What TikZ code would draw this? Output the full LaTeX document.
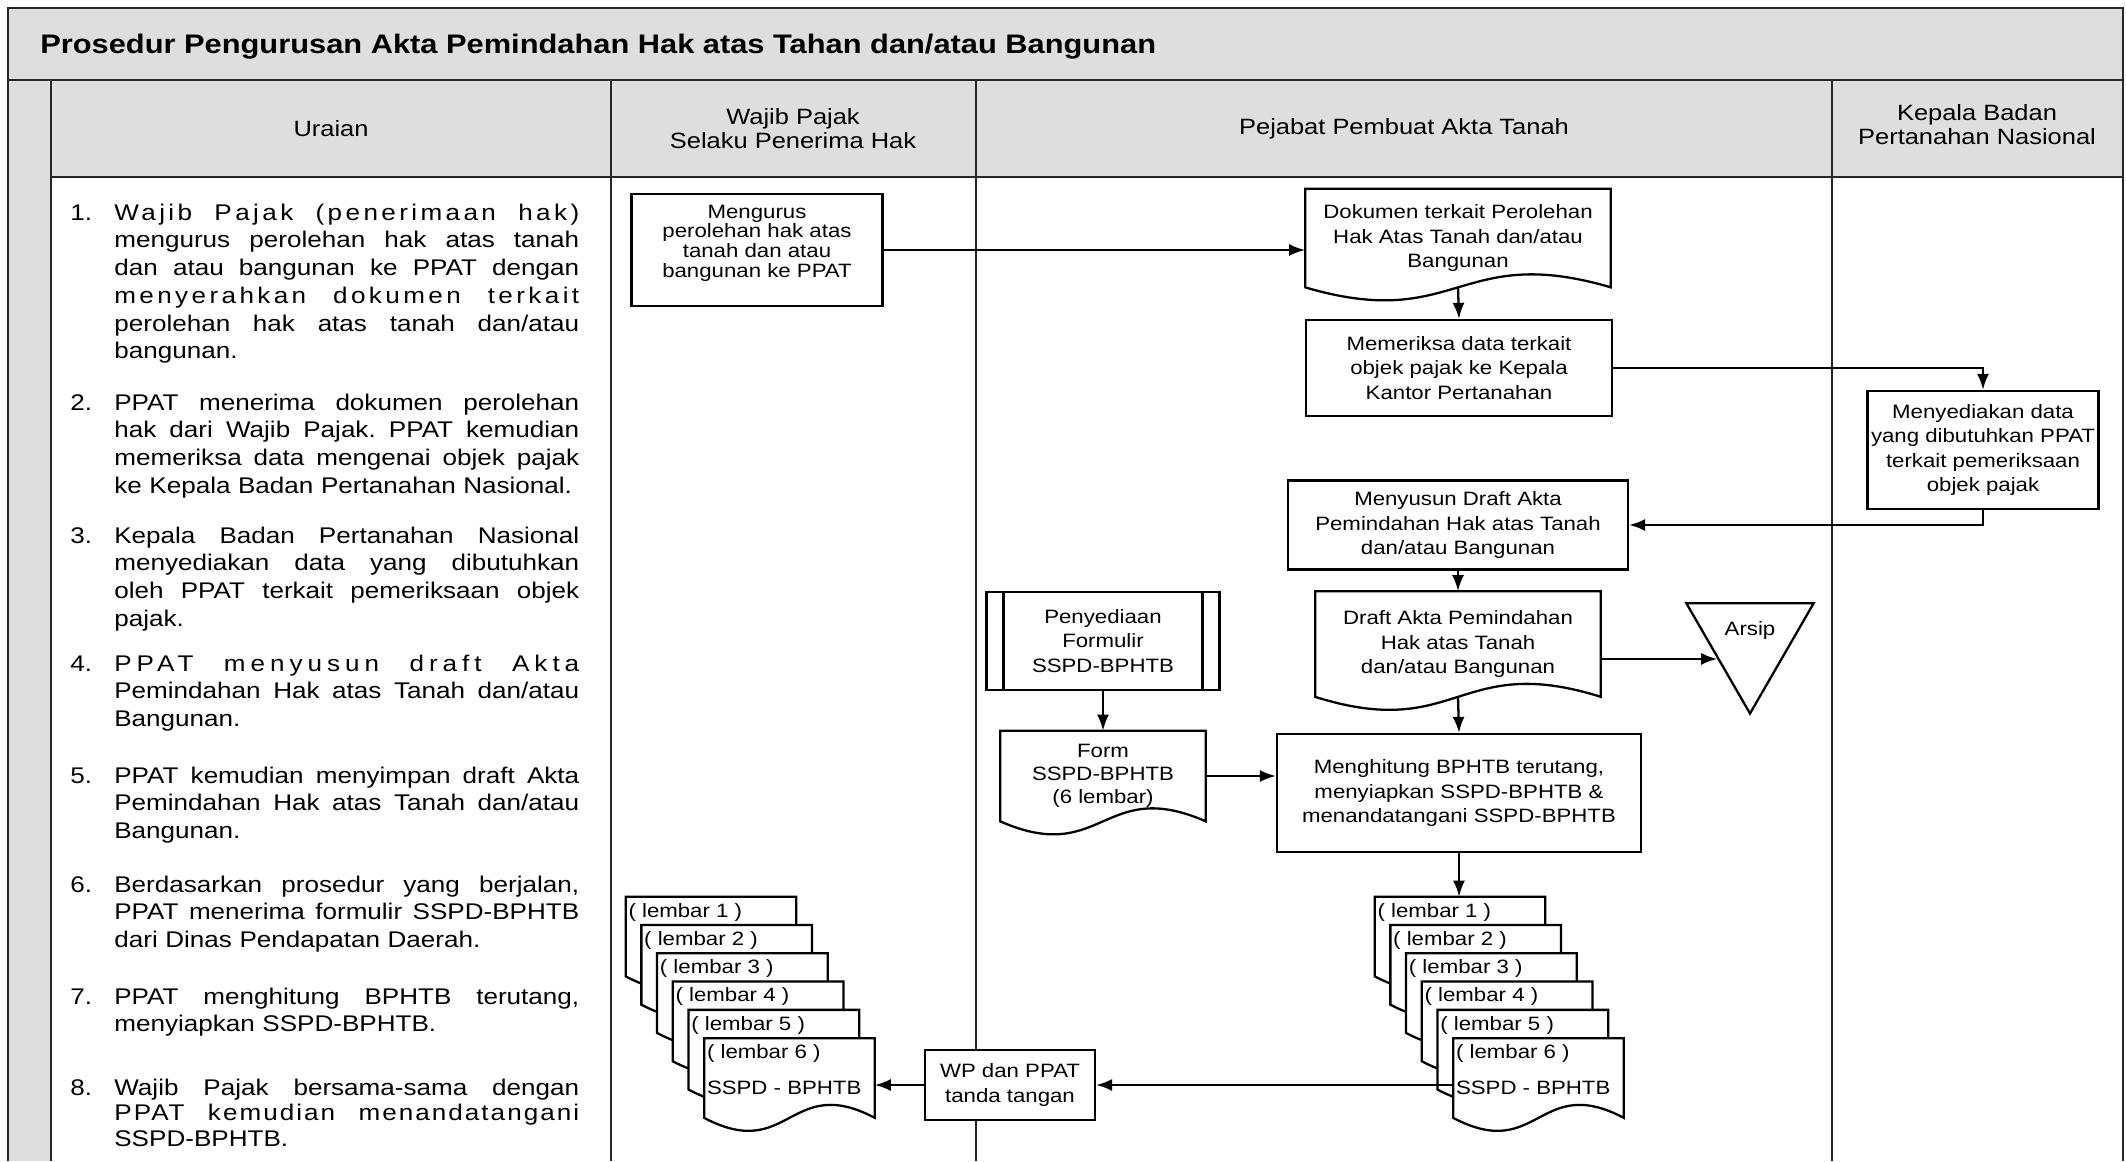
\documentclass[tikz,border=0pt]{standalone}
\usepackage{fontspec}
\setmainfont{Liberation Sans}[FakeStretch=1.15]
\usetikzlibrary{arrows.meta,calc,shapes.geometric}
\pgfdeclarelayer{docs}
\pgfsetlayers{docs,main}
\newcommand{\jline}[1]{\leavevmode\hbox to 9.3cm{\spaceskip=0.25em plus 1fil\xspaceskip=0.25em plus 1fil\relax #1}}
\newcommand{\sline}[2]{\leavevmode\hbox to 9.3cm{\addfontfeature{LetterSpace=#1}\spaceskip=0.25em plus 1fil\xspaceskip=0.25em plus 1fil\relax #2}}
\hbadness=10000

\begin{document}
\begin{tikzpicture}[x=0.02cm,y=-0.02cm,
band/.style={fill=black!13,draw=none},
laneline/.style={line width=1.6pt,draw=black!85},
lane/.style={font=\fontsize{12.6}{13.6}\selectfont,align=center},
uraian/.style={font=\fontsize{12.9}{15.8}\selectfont,inner sep=0pt,anchor=base west},
proc/.style={draw,fill=white,line width=1.3pt,align=center,inner sep=2pt,font=\fontsize{11}{13.8}\selectfont},
docu/.style={align=center,inner sep=2pt,font=\fontsize{11}{13.8}\selectfont},
sheet/.style={docu,minimum width=3.4cm,minimum height=1.58cm},
lembar/.style={font=\fontsize{11}{13.3}\selectfont,anchor=north west,inner xsep=0.05cm,inner ysep=0.12cm},
arr/.style={line width=1.3pt,-{Latex[length=0.32cm,width=0.24cm]}}]
\useasboundingbox (0,0) rectangle (2126,1161);

% swimlanes
\fill[band] (8,8) rectangle (2123,177);
\fill[band] (8,177) rectangle (51,1161);
\draw[laneline] (8,1161) -- (8,8) -- (2123,8) -- (2123,1161);
\draw[laneline] (8,80) -- (2123,80);
\draw[laneline] (51,177) -- (2123,177);
\draw[laneline] (51,80) -- (51,1161);
\draw[laneline] (611,80) -- (611,1161);
\draw[laneline] (976,80) -- (976,1161);
\draw[laneline] (1832,80) -- (1832,1161);

\node[anchor=base west,inner sep=0pt,font=\bfseries\fontsize{15.25}{18}\selectfont] (judul) at (40,53)
  {Prosedur Pengurusan Akta Pemindahan Hak atas Tahan dan/atau Bangunan};
\node[lane] (h1) at (331,129) {Uraian};
\node[lane] (h2) at (793,129) {Wajib Pajak\\Selaku Penerima Hak};
\node[lane] (h3) at (1404,129) {Pejabat Pembuat Akta Tanah};
\node[lane] (h4) at (1977,125) {Kepala Badan\\Pertanahan Nasional};

% uraian
\node[uraian] (n1) at (70,220) {1.};
\node[uraian,text width=9.3cm] (u1) at (114,220) {\sline{15}{Wajib Pajak (penerimaan hak)}\\
\jline{mengurus perolehan hak atas tanah}\\ \jline{dan atau bangunan ke PPAT dengan}\\
\sline{15}{menyerahkan dokumen terkait}\\ \jline{perolehan hak atas tanah dan/atau}\\ bangunan.};
\node[uraian] (n2) at (70,410) {2.};
\node[uraian,text width=9.3cm] (u2) at (114,410) {\jline{PPAT menerima dokumen perolehan}\\
\jline{hak dari Wajib Pajak. PPAT kemudian}\\ \jline{memeriksa data mengenai objek pajak}\\
ke Kepala Badan Pertanahan Nasional.};
\node[uraian] (n3) at (70,543) {3.};
\node[uraian,text width=9.3cm] (u3) at (114,543) {\jline{Kepala Badan Pertanahan Nasional}\\
\jline{menyediakan data yang dibutuhkan}\\ \jline{oleh PPAT terkait pemeriksaan objek}\\ pajak.};
\node[uraian] (n4) at (70,671) {4.};
\node[uraian,text width=9.3cm] (u4) at (114,671) {\sline{22}{PPAT menyusun draft Akta}\\
\jline{Pemindahan Hak atas Tanah dan/atau}\\ Bangunan.};
\node[uraian] (n5) at (70,783) {5.};
\node[uraian,text width=9.3cm] (u5) at (114,783) {\jline{PPAT kemudian menyimpan draft Akta}\\
\jline{Pemindahan Hak atas Tanah dan/atau}\\ Bangunan.};
\node[uraian] (n6) at (70,892) {6.};
\node[uraian,text width=9.3cm] (u6) at (114,892) {\jline{Berdasarkan prosedur yang berjalan,}\\
\jline{PPAT menerima formulir SSPD-BPHTB}\\ dari Dinas Pendapatan Daerah.};
\node[uraian] (n7) at (70,1004) {7.};
\node[uraian,text width=9.3cm] (u7) at (114,1004) {\jline{PPAT menghitung BPHTB terutang,}\\
menyiapkan SSPD-BPHTB.};
\node[uraian] (n8) at (70,1095) {8.};
\node[uraian,text width=9.3cm,font=\fontsize{12.9}{14.6}\selectfont] (u8) at (114,1095) {\jline{Wajib Pajak bersama-sama dengan}\\
\sline{9}{PPAT kemudian menandatangani}\\ SSPD-BPHTB.};

% alur
\node[proc,minimum width=5.02cm,minimum height=2.24cm] (urus) at (757,250) {};
\node[align=center,font=\fontsize{11}{11.2}\selectfont] (urusteks) at (757,243)
  {Mengurus\\perolehan hak atas\\tanah dan atau\\bangunan ke PPAT};
\node[docu,minimum width=6.1cm,minimum height=1.96cm] (dok) at (1458,238)
  {Dokumen terkait Perolehan\\Hak Atas Tanah dan/atau\\Bangunan};
\node[proc,minimum width=6.12cm,minimum height=1.92cm] (periksa) at (1459,368)
  {Memeriksa data terkait\\objek pajak ke Kepala\\Kantor Pertanahan};
\node[proc,minimum width=4.6cm,minimum height=2.36cm] (data) at (1983,450)
  {Menyediakan data\\yang dibutuhkan PPAT\\terkait pemeriksaan\\objek pajak};
\node[proc,minimum width=6.8cm,minimum height=1.78cm] (susun) at (1458,525)
  {Menyusun Draft Akta\\Pemindahan Hak atas Tanah\\dan/atau Bangunan};
\node[docu,minimum width=5.7cm,minimum height=2.1cm] (draft) at (1458,644)
  {Draft Akta Pemindahan\\Hak atas Tanah\\dan/atau Bangunan};
\node[regular polygon,regular polygon sides=3,shape border rotate=180,draw,line width=1.3pt,
  minimum size=2.94cm,inner sep=0pt,text depth=0.45cm,font=\fontsize{11}{13.3}\selectfont] (arsip) at (1750,640) {Arsip};
\node[proc,minimum width=4.66cm,minimum height=1.96cm,
  path picture={\draw[line width=1.3pt] ([xshift=0.34cm]path picture bounding box.north west) -- ([xshift=0.34cm]path picture bounding box.south west)
  ([xshift=-0.34cm]path picture bounding box.north east) -- ([xshift=-0.34cm]path picture bounding box.south east);}] (sedia) at (1103,641)
  {Penyediaan\\Formulir\\SSPD-BPHTB};
\node[docu,minimum width=4.1cm,minimum height=1.8cm,font=\fontsize{11}{13}\selectfont] (form) at (1103,776)
  {Form\\SSPD-BPHTB\\(6 lembar)};
\node[proc,minimum width=7.28cm,minimum height=2.36cm] (hit) at (1459,793)
  {Menghitung BPHTB terutang,\\menyiapkan SSPD-BPHTB \&\\menandatangani SSPD-BPHTB};
\node[proc,minimum width=3.4cm,minimum height=1.4cm] (wp) at (1010,1085)
  {WP dan PPAT\\tanda tangan};

% lembar 1-6
\foreach \k in {1,...,6} {
  \node[sheet] (kl\k) at ({711+15.7*(\k-1)},{936.5+28.3*(\k-1)}) {};
  \node[lembar] (ll\k) at (kl\k.north west) {( lembar \k{} )};
  \node[sheet] (kr\k) at ({1460+15.7*(\k-1)},{936.5+28.3*(\k-1)}) {};
  \node[lembar] (lr\k) at (kr\k.north west) {( lembar \k{} )};
}
\node[lembar,anchor=west] (sl) at ([yshift=-0.2cm]kl6.west) {SSPD - BPHTB};
\node[lembar,anchor=west] (sr) at ([yshift=-0.2cm]kr6.west) {SSPD - BPHTB};

\begin{pgfonlayer}{docs}
\foreach \d in {dok,draft,form,kl1,kl2,kl3,kl4,kl5,kl6,kr1,kr2,kr3,kr4,kr5,kr6}
  \draw[line width=1.3pt,fill=white] (\d.south west) -- (\d.north west) -- (\d.north east) -- (\d.south east)
    .. controls ($(\d.south)+(0,-45)$) and ($(\d.south)+(0,45)$) .. (\d.south west) -- cycle;
\end{pgfonlayer}

\draw[arr] (urus.east) -- (urus.east -| dok.west);
\draw[arr] (dok.south) -- (periksa.north);
\draw[arr] (periksa.east) -| (data.north);
\draw[arr] (data.south) |- (susun.east);
\draw[arr] (susun.south) -- (draft.north);
\draw[arr] (draft.east |- arsip.side 3) -- (arsip.side 3);
\draw[arr] (draft.south) -- (hit.north);
\draw[arr] (sedia.south) -- (form.north);
\draw[arr] (form.east) -- (form.east -| hit.west);
\draw[arr] (hit.south) -- (hit.south |- kr1.north);
\draw[arr] (kr6.west |- wp.east) -- (wp.east);
\draw[arr] (wp.west) -- (wp.west -| kl6.east);

\end{tikzpicture}
\end{document}
